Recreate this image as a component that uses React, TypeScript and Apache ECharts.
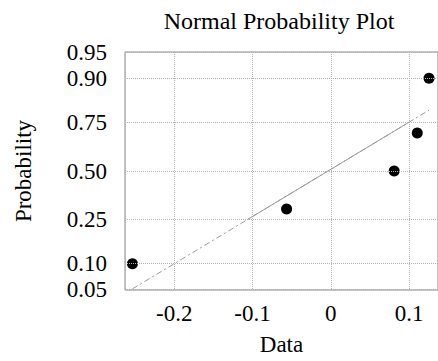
import React, { useEffect, useRef } from "react";
import * as echarts from "echarts";

// ---- data ----
const dataValues = [-0.2535, -0.0565, 0.081, 0.1105, 0.1255];
const probabilities = [0.1, 0.3, 0.5, 0.7, 0.9];
const yTickLabels = ["0.05", "0.10", "0.25", "0.50", "0.75", "0.90", "0.95"];
const quartiles = [-0.107, 0.1]; // q1, q3 of the data (reference line anchors)
const xRange = [-0.263, 0.137];

const FONT = "Liberation Serif";
const FS = 23;

function normInv(p: number): number {
  const a = [-3.969683028665376e1, 2.209460984245205e2, -2.759285104469687e2, 1.38357751867269e2, -3.066479806614716e1, 2.506628277459239];
  const b = [-5.447609879822406e1, 1.615858368580409e2, -1.556989798598866e2, 6.680131188771972e1, -1.328068155288572e1];
  const c = [-7.784894002430293e-3, -3.223964580411365e-1, -2.400758277161838, -2.549732539343734, 4.374664141464968, 2.938163982698783];
  const d = [7.784695709041462e-3, 3.224671290700398e-1, 2.445134137142996, 3.754408661907416];
  const pl = 0.02425;
  let q: number, r: number;
  if (p < pl) {
    q = Math.sqrt(-2 * Math.log(p));
    return (((((c[0] * q + c[1]) * q + c[2]) * q + c[3]) * q + c[4]) * q + c[5]) / ((((d[0] * q + d[1]) * q + d[2]) * q + d[3]) * q + 1);
  }
  if (p <= 1 - pl) {
    q = p - 0.5;
    r = q * q;
    return ((((((a[0] * r + a[1]) * r + a[2]) * r + a[3]) * r + a[4]) * r + a[5]) * q) / (((((b[0] * r + b[1]) * r + b[2]) * r + b[3]) * r + b[4]) * r + 1);
  }
  q = Math.sqrt(-2 * Math.log(1 - p));
  return -(((((c[0] * q + c[1]) * q + c[2]) * q + c[3]) * q + c[4]) * q + c[5]) / ((((d[0] * q + d[1]) * q + d[2]) * q + d[3]) * q + 1);
}

export default function App() {
  const ref = useRef<HTMLDivElement>(null);
  useEffect(() => {
    if (!ref.current) return;
    const chart = echarts.init(ref.current, null, { renderer: "svg" });
    const zLo = normInv(parseFloat(yTickLabels[0]));
    const zHi = normInv(parseFloat(yTickLabels[yTickLabels.length - 1]));
    const zq1 = normInv(0.25);
    const zq3 = normInv(0.75);
    const lineZ = (x: number) => zq1 + ((x - quartiles[0]) / (quartiles[1] - quartiles[0])) * (zq3 - zq1);
    const xMin = Math.min(...dataValues);
    const xMax = Math.max(...dataValues);

    const points = dataValues.map((x, i) => [x, normInv(probabilities[i])]);

    chart.setOption({
      animation: false,
      graphic: [
        {
          type: "text",
          x: 279,
          y: 21,
          style: {
            text: "Normal Probability Plot",
            font: `24px "${FONT}"`,
            fill: "#000",
            align: "center",
            verticalAlign: "middle",
          },
        },
      ],
      grid: {
        left: 125,
        right: -3,
        top: 52,
        bottom: 70.5,
        show: true,
        borderColor: "#8a8a8a",
        borderWidth: 1,
        backgroundColor: "transparent",
      },
      xAxis: {
        type: "value",
        min: xRange[0],
        max: xRange[1],
        splitNumber: 4,
        name: "Data",
        nameLocation: "middle",
        nameGap: 43,
        nameTextStyle: { fontFamily: FONT, fontSize: FS, color: "#000" },
        axisLine: { show: false },
        axisTick: { show: false },
        axisLabel: {
          showMinLabel: false,
          showMaxLabel: false,
          fontFamily: FONT,
          fontSize: FS,
          color: "#000",
          margin: 12,
        },
        splitLine: { show: true, lineStyle: { color: "#b0b0b0", type: [1, 1], width: 1 } },
      },
      yAxis: {
        type: "value",
        min: zLo,
        max: zHi,
        name: "Probability",
        nameLocation: "middle",
        nameGap: 90,
        nameTextStyle: { fontFamily: FONT, fontSize: FS, color: "#000" },
        axisLine: { show: false },
        axisTick: { show: false },
        axisLabel: { show: false },
        splitLine: { show: false },
      },
      series: [
        {
          type: "line",
          data: [],
          silent: true,
          markLine: {
            silent: true,
            symbol: "none",
            lineStyle: { color: "#b0b0b0", type: [1, 1], width: 1 },
            label: {
              position: "start",
              distance: 18,
              fontFamily: FONT,
              fontSize: FS,
              color: "#000",
            },
            data: yTickLabels.map((t) => ({
              yAxis: normInv(parseFloat(t)),
              label: { formatter: t },
            })),
          },
        },
        {
          type: "line",
          data: [
            [xMin, lineZ(xMin)],
            [xMax, lineZ(xMax)],
          ],
          symbol: "none",
          silent: true,
          clip: true,
          lineStyle: { color: "#9a9a9a", width: 1, type: [6, 3, 2, 3] },
        },
        {
          type: "line",
          data: quartiles.map((x) => [x, lineZ(x)]),
          symbol: "none",
          silent: true,
          lineStyle: { color: "#9a9a9a", width: 1, type: "solid" },
        },
        {
          type: "scatter",
          data: points,
          symbol: "circle",
          symbolSize: 11,
          itemStyle: { color: "#000", opacity: 1 },
        },
      ],
    });
    return () => chart.dispose();
  }, []);
  return <div ref={ref} style={{ position: "fixed", left: 0, top: 0, width: 438, height: 361, background: "#fff" }} />;
}
